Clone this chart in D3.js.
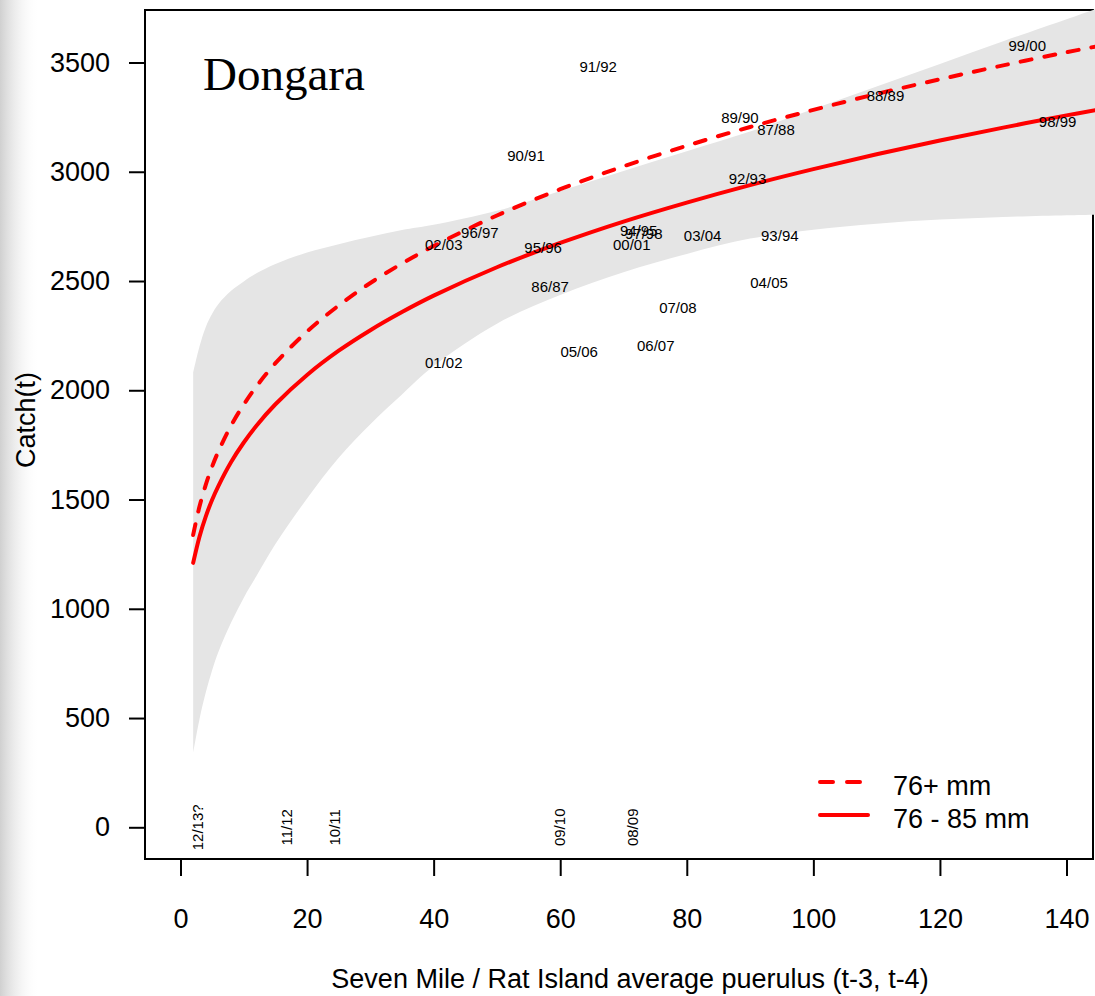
<!DOCTYPE html>
<html>
<head>
<meta charset="utf-8">
<script src="https://cdn.jsdelivr.net/npm/d3@7"></script>
<style>
    body { margin: 0; background: #fff; }
    svg { display: block; }
    text { font-family: "Liberation Sans", Arial, Helvetica, sans-serif; fill: #000; }
</style>
</head>
<body>
<svg id="chart" width="1095" height="996"></svg>
<script>
var puerulus = [2, 3, 4, 5, 6, 8, 10, 12, 15, 20, 25, 30, 35, 40, 50, 60, 70, 80, 90, 100, 110, 120, 130, 140, 145];
// 76 - 85 mm fit (solid)
var catch7685 = [1210, 1330, 1423, 1499, 1563, 1672, 1761, 1838, 1936, 2070, 2181, 2275, 2358, 2433, 2563, 2674, 2772, 2859, 2939, 3012, 3080, 3143, 3202, 3258, 3284];
// 76+ mm fit (dashed)
var catch76plus = [1338, 1468, 1568, 1651, 1721, 1839, 1935, 2018, 2124, 2269, 2388, 2491, 2580, 2660, 2800, 2920, 3025, 3119, 3205, 3283, 3356, 3423, 3487, 3547, 3575];
// grey band round the solid fit
var bandUpper = [2080, 2200, 2290, 2350, 2395, 2455, 2498, 2535, 2578, 2630, 2668, 2702, 2733, 2757, 2821, 2912, 3004, 3094, 3184, 3287, 3390, 3493, 3597, 3698, 3749];
var bandLower = [340, 495, 618, 719, 803, 937, 1051, 1150, 1296, 1505, 1691, 1845, 1981, 2111, 2305, 2436, 2540, 2624, 2694, 2735, 2762, 2781, 2793, 2801, 2804];

// season labels in the plot
var seasons = ["91/92", "90/91", "89/90", "87/88", "88/89", "99/00", "92/93", "98/99", "94/95", "97/98", "00/01",
    "03/04", "93/94", "02/03", "96/97", "95/96", "86/87", "04/05", "07/08", "06/07", "05/06", "01/02"];
var seasonPuerulus = [66, 54.6, 88.4, 94.1, 111.4, 133.8, 89.6, 138.6, 72.4, 73.2, 71.3,
    82.5, 94.7, 41.6, 47.3, 57.3, 58.4, 93.0, 78.6, 75.1, 63.0, 41.6];
var seasonCatch = [3480, 3072, 3246, 3193, 3347, 3576, 2969, 3228, 2729, 2715, 2665,
    2706, 2706, 2665, 2720, 2651, 2473, 2491, 2377, 2202, 2174, 2124];

// recent seasons, no catch yet, written upright along zero
var recent = ["12/13?", "11/12", "10/11", "09/10", "08/09"];
var recentPuerulus = [2.8, 16.8, 24.4, 60, 71.5];

var xTicks = [0, 20, 40, 60, 80, 100, 120, 140];
var yTicks = [0, 500, 1000, 1500, 2000, 2500, 3000, 3500];

var svg = d3.select("#chart");
var box = {left: 145, top: 10, right: 1093, bottom: 859};

var x = d3.scaleLinear().domain([0, 140]).range([180.5, 1066.5]);
var y = d3.scaleLinear().domain([0, 3500]).range([827.3, 62.5]);

// faint shadow on the left edge of the scan
var defs = svg.append("defs");
var grad = defs.append("linearGradient").attr("id", "shade").attr("x1", 0).attr("x2", 1).attr("y1", 0).attr("y2", 0);
grad.append("stop").attr("offset", 0).attr("stop-color", "#c4c4c4").attr("stop-opacity", 0.8);
grad.append("stop").attr("offset", 1).attr("stop-color", "#ffffff").attr("stop-opacity", 0);
svg.append("rect").attr("x", 0).attr("y", 0).attr("width", 40).attr("height", 996).attr("fill", "url(#shade)");

svg.append("rect")
    .attr("x", box.left).attr("y", box.top)
    .attr("width", box.right - box.left).attr("height", box.bottom - box.top)
    .attr("fill", "none").attr("stroke", "#000").attr("stroke-width", 2);

var yAxis = svg.append("g")
    .attr("transform", "translate(" + box.left + ",0)")
    .call(d3.axisLeft(y).tickValues(yTicks).tickFormat(d3.format("d")).tickSize(16).tickPadding(19));
var xAxis = svg.append("g")
    .attr("transform", "translate(0," + box.bottom + ")")
    .call(d3.axisBottom(x).tickValues(xTicks).tickFormat(d3.format("d")).tickSize(17).tickPadding(33));
[xAxis, yAxis].forEach(function(g) {
    g.select(".domain").remove();
    g.selectAll(".tick line").attr("stroke", "#000").attr("stroke-width", 2);
    g.selectAll(".tick text").style("font-size", "27px").attr("font-family", null);
});

svg.append("text")
    .attr("transform", "translate(35,420) rotate(-90)")
    .attr("text-anchor", "middle")
    .style("font-size", "27px")
    .text("Catch(t)");
svg.append("text")
    .attr("x", 630).attr("y", 988)
    .attr("text-anchor", "middle")
    .style("font-size", "27px")
    .text("Seven Mile / Rat Island average puerulus (t-3, t-4)");

var idx = d3.range(puerulus.length);

svg.append("path")
    .datum(idx)
    .attr("fill", "#e5e5e5")
    .attr("d", d3.area()
        .x(function(i) { return x(puerulus[i]); })
        .y0(function(i) { return y(bandLower[i]); })
        .y1(function(i) { return y(bandUpper[i]); })
        .curve(d3.curveCatmullRom));

function fitLine(values) {
    return d3.line()
        .x(function(i) { return x(puerulus[i]); })
        .y(function(i) { return y(values[i]); })
        .curve(d3.curveCatmullRom)(idx);
}

svg.append("path")
    .attr("d", fitLine(catch76plus))
    .attr("fill", "none").attr("stroke", "#ff0000").attr("stroke-width", 4)
    .attr("stroke-linecap", "round").attr("stroke-dasharray", "11,13");
svg.append("path")
    .attr("d", fitLine(catch7685))
    .attr("fill", "none").attr("stroke", "#ff0000").attr("stroke-width", 4)
    .attr("stroke-linecap", "round");

svg.selectAll("text.season")
    .data(seasons)
    .enter().append("text")
    .attr("class", "season")
    .attr("x", function(d, i) { return x(seasonPuerulus[i]); })
    .attr("y", function(d, i) { return y(seasonCatch[i]); })
    .attr("dy", "0.35em")
    .attr("text-anchor", "middle")
    .style("font-size", "15px")
    .text(function(d) { return d; });

svg.selectAll("text.recent")
    .data(recent)
    .enter().append("text")
    .attr("class", "recent")
    .attr("transform", function(d, i) { return "translate(" + x(recentPuerulus[i]) + "," + y(0) + ") rotate(-90)"; })
    .attr("dy", "0.35em")
    .attr("text-anchor", "middle")
    .style("font-size", "15px")
    .text(function(d) { return d; });

svg.append("text")
    .attr("x", 203).attr("y", 90)
    .style("font-family", "'Liberation Serif', 'Times New Roman', serif")
    .style("font-size", "47px")
    .text("Dongara");

// legend
var legend = svg.append("g");
legend.append("line")
    .attr("x1", 820).attr("x2", 860).attr("y1", 782).attr("y2", 782)
    .attr("stroke", "#ff0000").attr("stroke-width", 4)
    .attr("stroke-linecap", "round").attr("stroke-dasharray", "13,14");
legend.append("line")
    .attr("x1", 820).attr("x2", 868).attr("y1", 815).attr("y2", 815)
    .attr("stroke", "#ff0000").attr("stroke-width", 4)
    .attr("stroke-linecap", "round");
legend.append("text").attr("x", 893).attr("y", 795).style("font-size", "27px").text("76+ mm");
legend.append("text").attr("x", 893).attr("y", 828).style("font-size", "27px").text("76 - 85 mm");
</script>
</body>
</html>
